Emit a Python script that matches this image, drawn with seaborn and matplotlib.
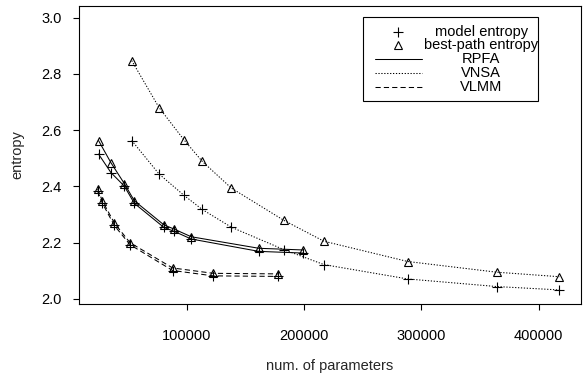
import pandas as pd
import matplotlib
matplotlib.use("Agg")
import matplotlib.pyplot as plt
import seaborn as sns
from matplotlib.lines import Line2D
from matplotlib.patches import Rectangle

# values
rpfa_params = [24900, 35500, 46900, 55400, 80700, 89500, 103900, 161600, 199500]
rpfa_model = [2.515, 2.449, 2.401, 2.340, 2.254, 2.240, 2.213, 2.169, 2.163]
rpfa_best = [2.563, 2.484, 2.410, 2.349, 2.263, 2.248, 2.221, 2.180, 2.174]

vnsa_params = [53200, 76500, 97800, 113300, 138100, 183000, 217100, 288500, 364400, 417700]
vnsa_model = [2.563, 2.444, 2.368, 2.318, 2.255, 2.175, 2.122, 2.071, 2.044, 2.032]
vnsa_best = [2.847, 2.680, 2.565, 2.489, 2.394, 2.279, 2.205, 2.133, 2.095, 2.079]

vlmm_params = [24200, 28100, 38400, 51700, 88100, 122800, 178200]
vlmm_model = [2.383, 2.341, 2.261, 2.193, 2.101, 2.082, 2.080]
vlmm_best = [2.391, 2.349, 2.270, 2.200, 2.110, 2.091, 2.089]

x_ticks = [100000, 200000, 300000, 400000]
y_ticks = [2.0, 2.2, 2.4, 2.6, 2.8, 3.0]

rows = []
for name, xs, m, b in [("RPFA", rpfa_params, rpfa_model, rpfa_best),
                       ("VNSA", vnsa_params, vnsa_model, vnsa_best),
                       ("VLMM", vlmm_params, vlmm_model, vlmm_best)]:
    for x, v in zip(xs, m):
        rows.append((name, "model entropy", x, v))
    for x, v in zip(xs, b):
        rows.append((name, "best-path entropy", x, v))
df = pd.DataFrame(rows, columns=["method", "kind", "params", "entropy"])

sns.set_theme(style="ticks")
plt.rcParams['font.family'] = ['Liberation Sans', 'DejaVu Sans']

lw = 0.75
styles = {"RPFA": "-", "VNSA": (0, (1.2, 1.6)), "VLMM": (0, (5, 3))}
markers = {"model entropy": dict(marker="+", markersize=7, markeredgewidth=0.8),
           "best-path entropy": dict(marker="^", markersize=6.3, markeredgewidth=0.8,
                                     markerfacecolor="none")}

fig = plt.figure(figsize=(5.84, 3.79), dpi=100)
ax = fig.add_axes([79 / 584, 1 - 304 / 379, 502 / 584, 298 / 379])

for (method, kind), g in df.groupby(["method", "kind"]):
    sns.lineplot(data=g, x="params", y="entropy", ax=ax, color="black",
                 linewidth=lw, linestyle=styles[method], estimator=None,
                 markeredgecolor="black", **markers[kind])

ax.set_xlim(8270, 436200)
ax.set_ylim(1.982, 3.041)
ax.set_xticks(x_ticks)
ax.set_xticklabels([str(t) for t in x_ticks])
ax.set_yticks(y_ticks)
ax.set_yticklabels([f"{t:.1f}" for t in y_ticks])
ax.tick_params(axis="both", direction="out", length=4.3, width=0.8,
               colors="black", labelsize=10.5)
ax.tick_params(axis="x", pad=14)
ax.tick_params(axis="y", pad=8)
for s in ax.spines.values():
    s.set_color("black")
    s.set_linewidth(0.8)

ax.set_xlabel("num. of parameters", fontsize=10.5)
ax.set_ylabel("entropy", fontsize=10.5)
ax.xaxis.set_label_coords(0.5, (304 - 366) / 298)
ax.xaxis.label.set_va("center")
ax.yaxis.set_label_coords((17 - 79) / 502, 0.5)
ax.yaxis.label.set_va("center")

# R-style legend box, drawn by hand so the text can be centred
ax.add_patch(Rectangle((0.565, 0.682), 0.349, 0.28, transform=ax.transAxes,
                       facecolor="white", edgecolor="black", linewidth=0.8, zorder=5))
leg_rows = [0.912, 0.870, 0.822, 0.776, 0.727]
leg_text = ["model entropy", "best-path entropy", "RPFA", "VNSA", "VLMM"]
ax.add_line(Line2D([0.636], [leg_rows[0]], transform=ax.transAxes, color="black",
                   linestyle="none", zorder=6, **markers["model entropy"]))
ax.add_line(Line2D([0.636], [leg_rows[1]], transform=ax.transAxes, color="black",
                   linestyle="none", zorder=6, markeredgecolor="black",
                   **markers["best-path entropy"]))
for r, m in zip(leg_rows[2:], ["RPFA", "VNSA", "VLMM"]):
    ax.add_line(Line2D([0.589, 0.683], [r, r], transform=ax.transAxes, color="black",
                       linewidth=lw, linestyle=styles[m], zorder=6))
for r, t in zip(leg_rows, leg_text):
    ax.text(0.801, r, t, transform=ax.transAxes, ha="center", va="center",
            fontsize=10.5, color="black", zorder=6)

fig.savefig("out.png", dpi=100)
